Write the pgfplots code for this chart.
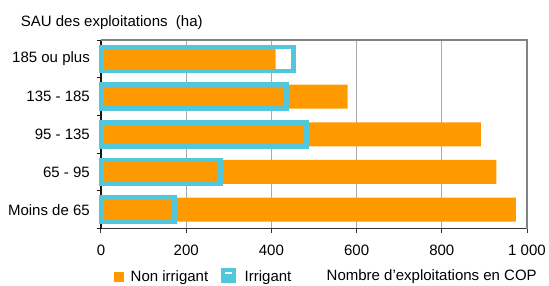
\documentclass[border=0pt]{standalone}
\usepackage{pgfplots}
\pgfplotsset{compat=1.18}
\usepackage{fontspec}
\setmainfont{Liberation Sans}
\definecolor{orangeb}{RGB}{255,153,0}
\definecolor{cyanb}{RGB}{82,199,219}
\definecolor{gridg}{RGB}{170,170,170}
\definecolor{frameg}{RGB}{130,130,130}
\begin{document}
\begin{tikzpicture}[font=\fontsize{15}{18}\selectfont]
\useasboundingbox (0,0) rectangle (549pt,285pt);
\begin{axis}[
  at={(101pt,56.5pt)}, anchor=south west,
  scale only axis, width=426pt, height=188.5pt,
  xmin=0, xmax=1000, ymin=-0.5, ymax=4.5,
  clip=false,
  xbar, bar width=24pt, bar shift=0pt,
  axis x line*=bottom, axis y line*=left,
  x axis line style={-, black!80, line width=1.8pt},
  y axis line style={-, black!90, line width=1.8pt},
  xtick={0,200,400,600,800,1000},
  xticklabels={0,200,400,600,800,1 000},
  ytick={-0.5,0.5,1.5,2.5,3.5,4.5},
  yticklabels={Moins de 65,65 - 95,95 - 135,135 - 185,185 ou plus},
  y tick label as interval,
  xmajorgrids, ymajorgrids=false,
  grid style={gridg, line width=1pt},
  tick align=outside, major tick length=4pt,
  xtick style={black!80, line width=1pt},
  ytick style={black!90, line width=1pt},
  xticklabel style={inner sep=0pt, yshift=-12.8pt},
  yticklabel style={inner sep=0pt, xshift=-7pt},
  every axis title shift=0pt,
  title={SAU des exploitations\ \ (ha)},
  title style={at={(axis description cs:-0.1885,1.0706)}, anchor=base west, inner sep=0pt, yshift=0pt},
  xlabel={Nombre d'exploitations en COP},
  xlabel style={at={(axis description cs:0.5293,-0.2769)}, anchor=base west, inner sep=0pt},
  legend style={at={(axis description cs:0.0305,-0.2504)}, anchor=west,
    draw=none, fill=none, inner sep=0pt, legend columns=-1,
    nodes={inner sep=0pt},
    /tikz/every odd column/.append style={column sep=6.5pt},
    /tikz/every even column/.append style={column sep=13pt}},
]
\addplot[fill=orangeb, draw=none,
  legend image code/.code={\fill[orangeb] (0pt,-5pt) rectangle (10pt,5pt);}]
  coordinates {(974,0) (928,1) (892,2) (579,3) (410,4)};
\addlegendentry{Non irrigant}
\addplot[fill=none, draw=cyanb, line width=4.5pt,
  legend image code/.code={\fill[cyanb] (0pt,-4pt) rectangle (10pt,6pt);
    \fill[white] (3.5pt,-0.5pt) rectangle (6.5pt,2.5pt);
    \path (0pt,0pt) -- (12.5pt,0pt);}]
  coordinates {(173,0) (281,1) (482,2) (436,3) (452,4)};
\addlegendentry{Irrigant}
\draw[frameg, line width=2pt] (rel axis cs:0,1) -- (rel axis cs:1,1) -- (rel axis cs:1,0);
\end{axis}
\end{tikzpicture}
\end{document}
